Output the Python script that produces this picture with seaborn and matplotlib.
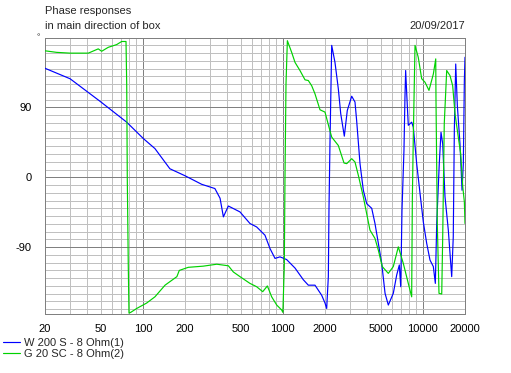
import numpy as np
import pandas as pd
import matplotlib
matplotlib.use("Agg")
import matplotlib.pyplot as plt
import seaborn as sns

# ---------------- data ----------------
series_names = ["W 200 S - 8 Ohm(1)", "G 20 SC - 8 Ohm(2)"]
series_colors = ["#0000ff", "#00d200"]

w_freq = [20, 30.2, 49.4, 76.7, 100.7, 122, 156, 200, 263, 327, 356, 376, 408, 494,
          582, 650, 745, 809, 879, 954, 1064, 1222, 1400, 1520, 1696, 1894, 2000, 2056,
          2113, 2135, 2170, 2233, 2357, 2490, 2590, 2748, 2885, 3103, 3275, 3366, 3557,
          3757, 3973, 4313, 4550, 4808, 5083, 5370, 5666, 6150, 6502, 6790, 6950, 7096,
          7330, 7450, 7535, 7670, 7870, 8320, 8545, 9035, 9550, 10075, 10650, 11250,
          11880, 12280, 12560, 13100, 13480, 13860, 14390, 15200, 16070, 16490, 16780,
          17170, 17630, 18420, 19050, 19460, 19790, 20000]
w_phase = [140.5, 127, 98, 71, 50, 37, 11, 2, -9, -14.5, -27, -51, -37, -44.6,
           -59.5, -64, -74.6, -91.7, -104.5, -102.5, -106, -117, -132, -139, -139, -152, -162, -169,
           -128, -42, 43, 170, 148, 114, 82, 53, 86, 104.5, 97, 73, 17.6,
           -16.7, -34, -40, -59.5, -85, -111, -149.5, -164.6, -149.5, -126, -113, -141, -42,
           35, 103, 137.6, 107.6, 67, 71, 64.7, 17.6, -21, -57.5, -85, -106.7,
           -115, -136.7, -59.5, 17.6, 58, 43, -25, -68, -128, -76.7, 60,
           146, 92.6, 43, -16.7, 17.6, 124.7, 154.7]

g_freq = [20, 24.2, 30.2, 40.8, 48.0, 50.8, 56.6, 65.0, 70.6, 75.8, 76.7, 77.4, 78.7,
          79.6, 82, 90.4, 106.5, 122, 144, 175, 182, 211, 270, 337, 408, 443, 494,
          582, 650, 718, 775, 832, 904, 981, 1000, 1024, 1036, 1053, 1077, 1156, 1222,
          1325, 1440, 1520, 1607, 1696, 1842, 2000, 2135, 2233, 2490, 2734, 2858, 3103,
          3275, 3460, 3757, 4190, 4550, 4808, 5130, 5666, 6150, 6680, 7250, 7870, 8320,
          8410, 8545, 8790, 9270, 9810, 10360, 11060, 11880, 12360, 12410, 12680, 13040,
          13640, 13860, 14220, 14800, 15630, 16330, 16970, 17910, 18630, 19280, 19790, 20000]
g_phase = [163, 161, 160, 160, 165.5, 162.4, 167.5, 171, 175, 175, 118, 0, -115,
           -175, -174, -169, -162, -154, -139, -128, -120, -116, -114.5, -112, -114, -122, -128,
           -136.7, -141, -147.4, -140, -154, -164.6, -171, -174, -115, 2.6, 120, 176, 161, 148,
           137.6, 125.6, 124.7, 118, 107.6, 87, 84, 64.7, 51.8, 41, 18.4, 17.6, 24,
           19.7, 2.6, -25.3, -68, -78.8, -93.9, -115, -123.8, -115, -89.6, -111, -136.7, -154,
           -29.6, 51.8, 170, 154.7, 127, 122.5, 112, 133, 152.6, 101, -59.5, -149.5,
           -150.4, -76.7, 69, 137.6, 131, 118, 82, 51.8, 30.4, -12.5, -31.7, -59.5]

x_ticks = [20, 50, 100, 200, 500, 1000, 2000, 5000, 10000, 20000]
x_tick_labels = ["20", "50", "100", "200", "500", "1000", "2000", "5000", "10000", "20000"]
y_ticks = [-90, 0, 90]
y_tick_labels = ["-90", "0", "90"]
title_line1 = "Phase responses"
title_line2 = "in main direction of box"
date_text = "20/09/2017"

# ---------------- figure ----------------
sns.set_style("white")
plt.rcParams['font.family'] = ['Liberation Sans', 'DejaVu Sans']

df = pd.concat([
    pd.DataFrame({"freq": w_freq, "phase": w_phase, "series": series_names[0]}),
    pd.DataFrame({"freq": g_freq, "phase": g_phase, "series": series_names[1]}),
], ignore_index=True)

W, H = 511, 373
PX = 0.72  # one pixel in points at 100 dpi
fig = plt.figure(figsize=(W / 100, H / 100), dpi=100)
fig.patch.set_facecolor("white")
ax = fig.add_axes([45 / W, (H - 313.5) / H, 420 / W, 275.5 / H])
ax.set_xscale("log")

# grid lines
light, dark = "#c0c0c0", "#808080"
for dec in [10, 100, 1000, 10000]:
    for m in range(1, 10):
        f = dec * m
        if 20 <= f <= 20000:
            ax.axvline(f, color=dark if m == 1 else light, lw=PX, zorder=0, antialiased=False)
for v in range(-170, 180, 10):
    ax.axhline(v, color=dark if v in (-90, 0, 90) else light, lw=PX, zorder=0, antialiased=False)

sns.lineplot(data=df, x="freq", y="phase", hue="series", palette=series_colors,
             sort=False, estimator=None, ax=ax, linewidth=0.85, zorder=3)

ax.set_xlim(20, 20000)
ax.set_ylim(-175.5, 179.5)
ax.set_xticks(x_ticks)
ax.set_xticklabels(x_tick_labels)
ax.xaxis.set_minor_locator(matplotlib.ticker.NullLocator())
ax.set_yticks(y_ticks)
ax.set_yticklabels(y_tick_labels)
ax.set_xlabel("")
ax.set_ylabel("")
ax.tick_params(axis="both", which="major", length=4.5, width=PX, color="black",
               direction="out", labelsize=8, labelcolor="black")
ax.tick_params(axis="y", pad=5)
ax.tick_params(axis="x", pad=3)
for s in ax.spines.values():
    s.set_color(dark)
    s.set_linewidth(PX)
    s.set_visible(True)
    s.set_antialiased(False)

# legend
leg = ax.get_legend()
handles = leg.legend_handles
labels = [t.get_text() for t in leg.get_texts()]
leg.remove()
for h in handles:
    h.set_linewidth(0.85)
ax.legend(handles, labels, loc="upper left", bbox_to_anchor=(3 / W, 1 - 338 / H),
          bbox_transform=fig.transFigure, frameon=False, fontsize=8,
          handlelength=1.55, handletextpad=0.3, labelspacing=0.12,
          borderpad=0, borderaxespad=0)

# texts
fig.text(45 / W, 1 - 6 / H, title_line1, ha="left", va="top", fontsize=8)
fig.text(45 / W, 1 - 21 / H, title_line2, ha="left", va="top", fontsize=8)
fig.text(465 / W, 1 - 21 / H, date_text, ha="right", va="top", fontsize=8)
fig.text(38 / W, 1 - 38 / H, "°", ha="center", va="center", fontsize=6)

fig.savefig("out.png", dpi=100, facecolor="white")
